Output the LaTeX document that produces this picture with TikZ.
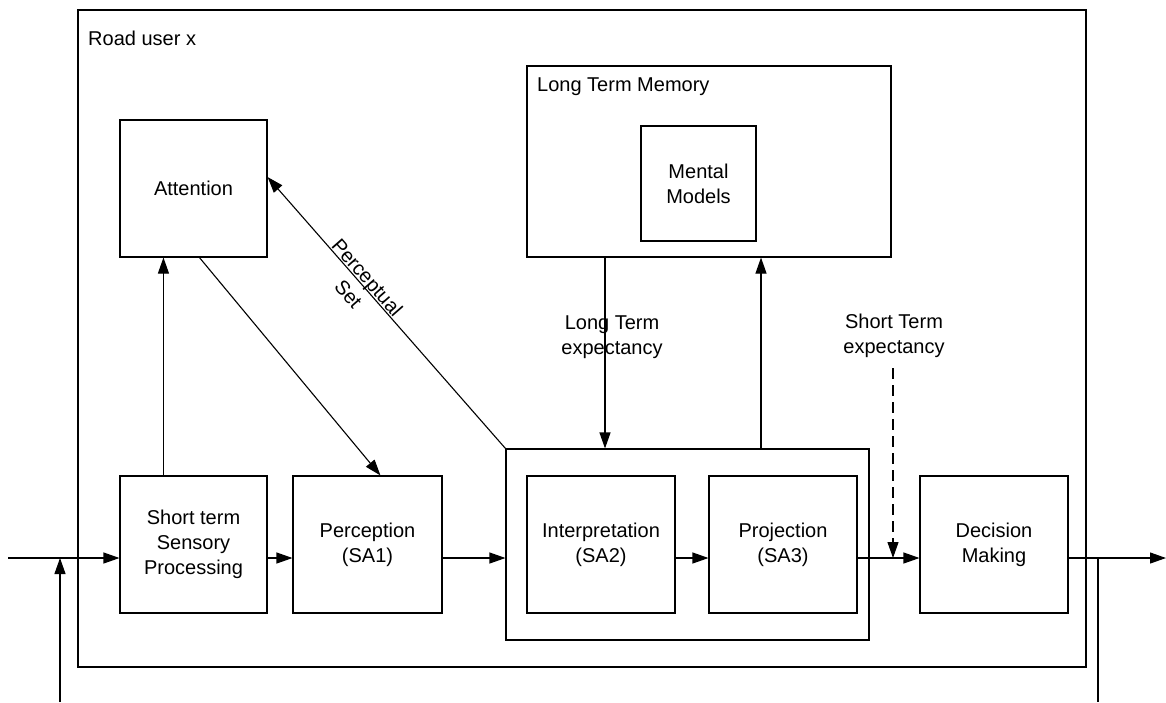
\documentclass[tikz,border=0pt]{standalone}
\usepackage{fontspec}
\setmainfont{Liberation Sans}
\usetikzlibrary{arrows.meta}

\begin{document}
\begin{tikzpicture}[x=1pt,y=-1pt,
  txt/.style={font=\fontsize{20}{25}\selectfont, align=center, inner sep=0pt},
  box/.style={txt, draw, line width=1.1pt},
  conn/.style={line width=1.1pt, -{Triangle[length=16pt,width=11pt]}},
  plain/.style={line width=1.1pt},
  dashedconn/.style={conn, dash pattern=on 11pt off 6pt}]

\useasboundingbox (0,0) rectangle (1166,702);

% frames
\node[box, minimum width=1008pt, minimum height=657pt] (user) at (582,338.5) {};
\node[txt, anchor=west] (userlbl) at (88,38) {Road user x};

\node[box, minimum width=364pt, minimum height=191pt] (ltm) at (709,161.5) {};
\node[txt, anchor=west] (ltmlbl) at (537,87) {Long Term Memory};
\node[box, minimum width=115pt, minimum height=115pt] (mm) at (698.5,183.5) {Mental\\Models};

\node[box, minimum width=363pt, minimum height=191pt] (sa) at (687.5,544.5) {};

% process blocks
\node[box, minimum width=147pt, minimum height=137pt] (att) at (193.5,188.5) {Attention};
\node[box, minimum width=147pt, minimum height=137pt] (ssp) at (193.5,544.5) {Short term\\Sensory\\Processing};
\node[box, minimum width=149pt, minimum height=137pt] (perc) at (367.5,544.5) {Perception\\(SA1)};
\node[box, minimum width=148pt, minimum height=137pt] (interp) at (601,544.5) {Interpretation\\(SA2)};
\node[box, minimum width=148pt, minimum height=137pt] (proj) at (783,544.5) {Projection\\(SA3)};
\node[box, minimum width=148pt, minimum height=137pt] (dec) at (994,544.5) {Decision\\Making};

% free ends and reference lines
\coordinate (row) at (0,558);
\coordinate (in) at (8,558);
\coordinate (fbLbot) at (60,702);
\coordinate (fbLtop) at (60,558);
\coordinate (out) at (1166,558);
\coordinate (fbRtop) at (1098,558);
\coordinate (fbRbot) at (1098,702);
\coordinate (ltx) at (605,0);
\coordinate (upx) at (761,0);
\coordinate (stTop) at (893,368);
\coordinate (stTip) at (893,558);

% main flow
\draw[conn] (in) -- (ssp.west |- row);
\draw[conn] (fbLbot) -- (fbLtop);
\draw[conn] (ssp.east |- row) -- (perc.west |- row);
\draw[conn] (perc.east |- row) -- (sa.west |- row);
\draw[conn] (interp.east |- row) -- (proj.west |- row);
\draw[conn] (proj.east |- row) -- (dec.west |- row);
\draw[conn] (dec.east |- row) -- (out);
\draw[plain] (fbRtop) -- (fbRbot);

% attention loop
\draw[conn] ([xshift=44pt]ssp.north west) -- ([xshift=44pt]att.south west);
\draw[conn] ([xshift=80pt]att.south west) -- ([xshift=88pt]perc.north west);
\draw[conn] (sa.north west) -- ([yshift=11.5pt]att.east);
\node[txt, rotate=-48.8] (pset) at (358,285.5) {Perceptual\\Set};

% memory links
\draw[conn] (ltm.south -| ltx) -- (sa.north -| ltx);
\draw[conn] (sa.north -| upx) -- (ltm.south -| upx);
\node[txt] (ltelbl) at (612,337) {Long Term\\expectancy};

% short term expectancy
\node[txt] (stelbl) at (894,336) {Short Term\\expectancy};
\draw[dashedconn] (stTop) -- (stTip);

\end{tikzpicture}
\end{document}
